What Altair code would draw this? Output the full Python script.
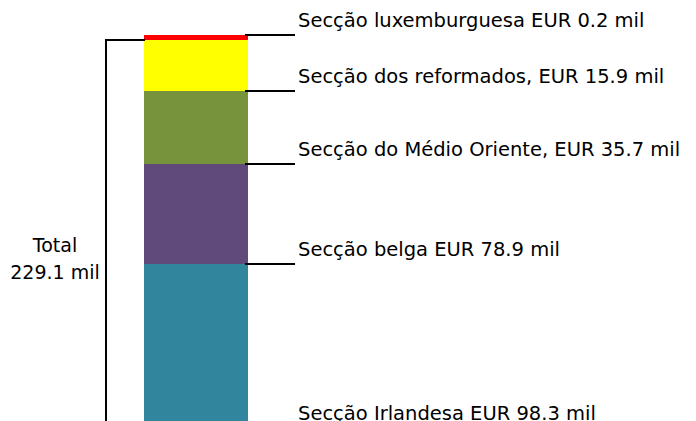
import altair as alt
import pandas as pd

# Segments, from bottom to top of the stacked bar
sections = ["Secção Irlandesa EUR 98.3 mil",
            "Secção belga EUR 78.9 mil",
            "Secção do Médio Oriente, EUR 35.7 mil",
            "Secção dos reformados, EUR 15.9 mil",
            "Secção luxemburguesa EUR 0.2 mil"]
amounts = [98.3, 78.9, 35.7, 15.9, 0.2]          # EUR thousand (labels)
bar_heights = [164, 100, 73, 51, 5]               # segment heights as drawn in the picture
colors = ["#31859C", "#604A7B", "#77933C", "#FFFF00", "#FF0000"]
total_text = ["Total", "229.1 mil"]

df = pd.DataFrame({"section": sections, "amount": amounts,
                   "h": bar_heights, "color": colors,
                   "order": list(range(len(sections)))})
df["end"] = df["h"].cumsum()
df["start"] = df["end"] - df["h"]
# leader lines sit at each segment's lower edge, except the thin top segment (upper edge)
df["leader"] = df["start"]
df.loc[df.index[-1], "leader"] = df["end"].iloc[-1]

FONT = "DejaVu Sans"
FS = 19.5
yscale = alt.Scale(domain=[0, 420])

bars = alt.Chart(df).mark_bar().encode(
    x=alt.value(136), x2=alt.value(240),
    y=alt.Y("start:Q", scale=yscale, axis=None),
    y2="end:Q",
    color=alt.Color("color:N", scale=None),
)

leaders = alt.Chart(df).mark_rule(color="black", strokeWidth=2).encode(
    x=alt.value(237), x2=alt.value(287),
    y=alt.Y("leader:Q", scale=yscale, axis=None),
)

labels = alt.Chart(df).mark_text(align="left", baseline="middle", dy=-14,
                                 font=FONT, fontSize=FS, color="black").encode(
    x=alt.value(290),
    y=alt.Y("leader:Q", scale=yscale, axis=None),
    text="section:N",
)

top_df = pd.DataFrame({"top": [df["start"].iloc[-1]]})
bracket_v = alt.Chart(top_df).mark_rule(color="black", strokeWidth=2).encode(
    x=alt.value(98),
    y=alt.Y("top:Q", scale=yscale, axis=None),
    y2=alt.value(440),
)
bracket_h = alt.Chart(top_df).mark_rule(color="black", strokeWidth=2).encode(
    x=alt.value(97), x2=alt.value(137),
    y=alt.Y("top:Q", scale=yscale, axis=None),
)

tot_df = pd.DataFrame({"t": ["\n".join(total_text)]})
total = alt.Chart(tot_df).mark_text(align="center", baseline="middle", lineBreak="\n",
                                   lineHeight=27, font=FONT, fontSize=19,
                                   color="black").encode(
    x=alt.value(47), y=alt.value(238), text="t:N",
)

chart = alt.layer(bars, leaders, labels, bracket_v, bracket_h, total).properties(
    width=680, height=420,
    autosize=alt.AutoSizeParams(type="none"),
    padding=0,
).configure_view(stroke=None)

chart.save("out.html", embed_options={"renderer": "svg", "actions": False})
